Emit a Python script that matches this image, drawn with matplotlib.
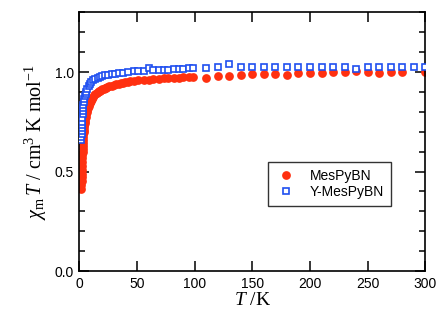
import matplotlib
matplotlib.use("Agg")
import matplotlib.pyplot as plt
from matplotlib.ticker import MultipleLocator

# MesPyBN (red filled circles)
T_red = [1.8, 1.9, 2.0, 2.1, 2.2, 2.3, 2.4, 2.5, 2.6, 2.7, 2.8, 2.9, 3.0, 3.15, 3.3,
         3.45, 3.6, 3.8, 4.0, 4.25, 4.5, 4.75, 5.0, 5.5, 6.0, 6.5, 7.0, 7.5, 8.0,
         8.5, 9.0, 9.5, 10, 11, 12, 13, 14, 15, 16, 17, 18, 19, 20, 21, 22, 23,
         24, 26, 28, 30, 32, 34, 36, 38, 40, 42, 44, 47, 51, 56, 60, 64, 69, 73,
         77, 82, 86, 90, 95, 99,
         110, 120, 130, 140, 150, 160, 170, 180, 190, 200, 210, 220, 230, 240,
         250, 260, 270, 280, 300]
chiT_red = [0.41, 0.43, 0.45, 0.47, 0.49, 0.51, 0.53, 0.55, 0.57, 0.585, 0.60,
            0.615, 0.63, 0.645, 0.66, 0.675, 0.69, 0.70, 0.71, 0.723, 0.735, 0.745,
            0.755, 0.775, 0.79, 0.80, 0.81, 0.82, 0.83, 0.838, 0.845, 0.85, 0.855,
            0.865, 0.875, 0.882, 0.888, 0.893, 0.898, 0.903, 0.907, 0.91, 0.914,
            0.917, 0.92, 0.922, 0.924, 0.928, 0.932, 0.936, 0.94, 0.942, 0.944,
            0.947, 0.949, 0.951, 0.953, 0.955, 0.958, 0.96, 0.962, 0.964, 0.966,
            0.968, 0.97, 0.971, 0.972, 0.974, 0.975, 0.976,
            0.968, 0.98, 0.98, 0.987, 0.988, 0.99, 0.988, 0.987, 0.993, 0.996,
            0.995, 1.0, 1.0, 1.006, 0.998, 0.997, 1.0, 0.998, 1.0]

# Y-MesPyBN (blue open squares)
T_blue = [1.8, 1.9, 2.0, 2.1, 2.2, 2.3, 2.4, 2.6, 2.8, 3.0, 3.3, 3.6, 4.0, 4.5,
          5.0, 5.5, 6.0, 7.0, 8.0, 9.0, 10, 12, 14, 16, 18, 20, 22, 25, 28, 31,
          34, 38, 42, 47, 51, 56, 60, 64, 69, 73, 77, 82, 86, 90, 95, 99,
          110, 120, 130, 140, 150, 160, 170, 180, 190, 200, 210, 220, 230, 240,
          250, 260, 270, 280, 290, 300]
chiT_blue = [0.66, 0.675, 0.69, 0.705, 0.72, 0.735, 0.75, 0.77, 0.79, 0.805, 0.82,
             0.835, 0.85, 0.865, 0.878, 0.89, 0.90, 0.915, 0.93, 0.94, 0.948,
             0.958, 0.965, 0.972, 0.976, 0.98, 0.983, 0.986, 0.988, 0.99, 0.993,
             0.997, 1.0, 1.004, 1.006, 1.007, 1.022, 1.008, 1.009, 1.01, 1.012,
             1.013, 1.015, 1.016, 1.018, 1.02,
             1.022, 1.024, 1.04, 1.023, 1.023, 1.023, 1.023, 1.023, 1.023, 1.023,
             1.023, 1.023, 1.023, 1.015, 1.023, 1.023, 1.023, 1.023, 1.023, 1.023]

labels = ["MesPyBN", "Y-MesPyBN"]
x_ticks = [0, 50, 100, 150, 200, 250, 300]
y_ticks = [0.0, 0.5, 1.0]

plt.rcParams['mathtext.fontset'] = 'custom'
plt.rcParams['mathtext.rm'] = 'Liberation Serif'
plt.rcParams['mathtext.it'] = 'Liberation Serif:italic'
plt.rcParams['font.family'] = ['Liberation Sans', 'DejaVu Sans']

fig = plt.figure(figsize=(4.39, 3.2), dpi=100)
ax = fig.add_axes([0.1806, 0.153, 0.7884, 0.8086])

ax.plot(T_red, chiT_red, 'o', color='#ff3010', markersize=6.3, markeredgewidth=0,
        label=labels[0], zorder=2)
ax.plot(T_blue, chiT_blue, 's', markerfacecolor='white', markeredgecolor='#1f4ff0',
        markersize=4.0, markeredgewidth=1.2, label=labels[1], zorder=3)

ax.set_xlim(0, 300)
ax.set_ylim(0, 1.3)
ax.set_xticks(x_ticks)
ax.set_yticks(y_ticks)
ax.set_yticklabels([f"{v:.1f}" for v in y_ticks])
ax.yaxis.set_minor_locator(MultipleLocator(0.1))
ax.tick_params(which='both', direction='in', top=True, right=True, width=1.1,
               labelsize=10, colors='black', pad=4)
ax.tick_params(which='major', length=7.5)
ax.tick_params(which='minor', length=4.3)
for s in ax.spines.values():
    s.set_linewidth(1.2)

ax.set_xlabel(r'$T$ /K', fontsize=14, family='Liberation Serif', labelpad=1)
ax.set_ylabel(r'$\chi_{\rm m}\,T$ / cm$^3$ K mol$^{-1}$', fontsize=14.5,
              family='Liberation Serif', labelpad=4)

leg = ax.legend(loc='upper left', bbox_to_anchor=(0.545, 0.423), fontsize=10,
                frameon=True, fancybox=False, shadow=False, borderpad=0.5,
                handletextpad=0.9, labelspacing=0.2, handlelength=1.6,
                borderaxespad=0)
leg.get_frame().set_edgecolor('black')
leg.get_frame().set_linewidth(1.0)

fig.savefig('out.png', dpi=100)
